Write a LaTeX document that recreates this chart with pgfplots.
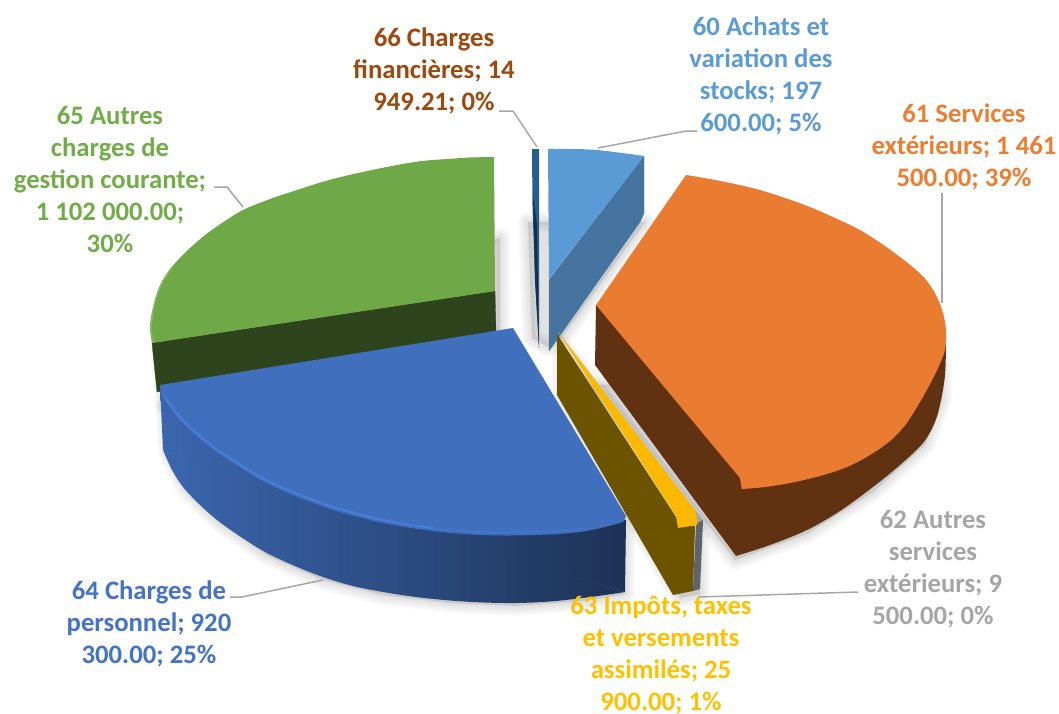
\documentclass[border=0pt]{standalone}
\usepackage{pgfplots}
\pgfplotsset{compat=1.18}
\usepackage{fontspec}
\setmainfont{Carlito}
\definecolor{c60}{HTML}{5B9BD5}
\definecolor{c60s}{HTML}{4674A1}
\definecolor{c61}{HTML}{E97C30}
\definecolor{c61s}{HTML}{613212}
\definecolor{c62}{HTML}{A5A5A5}
\definecolor{c62s}{HTML}{5F6469}
\definecolor{c63}{HTML}{FDB900}
\definecolor{c63s}{HTML}{6B5300}
\definecolor{c64}{HTML}{406FBE}
\definecolor{c64h}{HTML}{4B82DE}
\definecolor{c65}{HTML}{6FA947}
\definecolor{c65s}{HTML}{2D441C}
\definecolor{c66}{HTML}{255E91}
\definecolor{c66s}{HTML}{14304F}
\definecolor{t61}{HTML}{ED7D31}
\definecolor{t63}{HTML}{FFC000}
\definecolor{t64}{HTML}{4472C4}
\definecolor{t65}{HTML}{70AD47}
\definecolor{t66}{HTML}{9E480E}
\definecolor{lead}{HTML}{A6A6A6}
\tikzset{
  lbl/.style={font=\fontsize{26.7}{32}\selectfont\bfseries, align=center, anchor=center, inner sep=0pt},
  ld/.style={draw=lead, line width=1.5pt},
  sh/.style={draw=black, fill=black, opacity=0.025},
  solid fill/.style={fill=#1, draw=#1, line width=0.3pt},
}
\pgfplotstableread{
x y
600 385
735 560
807 534
873 492
925 445
942 400
942 365
}\shOrange
\pgfplotstableread{
x y
165 405
168 452
186 490
220 523
268 556
323 580
383 595
450 603
517 606
583 601
625 594
625 520
}\shBlue
\pgfplotstableread{
x y
500 238
500 335
165 405
160 350
}\shGreen
\pgfplotstableread{
x y
528 222
645 222
560 340
548 347
532 338
}\shTop
\pgfplotstableread{
x y
562 345
700 525
700 594
680 598
562 400
}\shYellow
\begin{document}
\begin{tikzpicture}
\begin{axis}[
  width=1059pt, height=713pt, scale only axis,
  xmin=0, xmax=1059, ymin=0, ymax=713, y dir=reverse,
  hide axis, clip=false, no markers,
  every axis plot/.append style={line join=round},
]
\path (axis cs:0,0) rectangle (axis cs:1059,713);
% soft shadows
\pgfplotsinvokeforeach{20,16,12,8,4}{
  \addplot[sh, line width=#1pt] table {\shOrange} --cycle;
  \addplot[sh, line width=#1pt] table {\shBlue} --cycle;
  \addplot[sh, line width=#1pt] table {\shGreen} --cycle;
  \addplot[sh, line width=#1pt] table {\shTop} --cycle;
  \addplot[sh, line width=#1pt] table {\shYellow} --cycle;
}
% 65 green
\addplot[solid fill=c65s] coordinates {(152,343)(495,291)(496,332)(157,392)} --cycle;
\addplot[fill=c65, draw=none, smooth, tension=0.55] coordinates {
 (494,157)(470,157.5)(447,159)(422,161)(397,165)(372,170)(347,175.5)(322,182)(297,190)(270,199)(243,210)(225,221)(207,233.5)(190,248)(173,265.5)(163,280)(157,294)(152,312)(150,328)(152,343)} --cycle;
\addplot[fill=c65, draw=none] coordinates {(495,291)(494,157)(300,210)(152,343)} --cycle;
\addplot[draw=c65!85!white, line width=1.5pt, smooth, tension=0.55] coordinates {(173,266)(163,281)(157,295)(153,312)(151,328)(153,342)};
% 66
\addplot[fill=c66, draw=none] coordinates {(532,149)(539,149)(539,348)(535,280)(532.5,207)} --cycle;
\addplot[fill=c66s, draw=none] coordinates {(533,195)(537,225)(539,348)(535,280)} --cycle;
% 60
\addplot[solid fill=c60s] coordinates {(549,280)(644,156)(644,213)(640,222)(549,351)} --cycle;
\addplot[fill=c60, draw=none, smooth, tension=0.55] coordinates {(548,149)(575,149)(597,150)(622,153)(644,156)} --cycle;
\addplot[fill=c60, draw=none] coordinates {(549,279)(548,149)(597,151)(644,156)} --cycle;
% 61
\addplot[fill=c61s, draw=none, smooth, tension=0.55] coordinates {
 (736,556)(770,545)(807,530)(840,511)(873,487)(900,465)(923,443)(935,422)(941,400)(945,375)(946,345)} --cycle;
\addplot[fill=c61s, draw=none] coordinates {(596,305)(595,365)(736,556)(880,440)(946,345)} --cycle;
\addplot[fill=c61, draw=none, smooth, tension=0.55] coordinates {
 (686,175)(710,179)(735,184)(760,190)(785,198)(810,207)(835,218)(860,230)(882,244)(900,257)(915,269)(927,281)(937,297)(943,313)(946,330)(945,350)(938,368)(930,384)(920,402)(906,424)(890,441)(870,455)(847,467)(820,476)(790,483)(765,487)(742,489)} --cycle;
\addplot[fill=c61, draw=none] coordinates {(596,305)(686,175)(800,330)(742,489)(740,478)} --cycle;
% 62 grey
\addplot[fill=c62, draw=none] coordinates {(558,332)(703,520)(697,527)(690,510)} --cycle;
\addplot[fill=c62s, draw=none] coordinates {(696,524)(703,520)(700,589)(693,591)} --cycle;
% 63
\addplot[fill=c63s, draw=none] coordinates {(557,334)(678,520)(695,526)(693,591)(673,595)(557,395)} --cycle;
\addplot[fill=c63, draw=none] coordinates {(558,332)(695,510)(697,518)(697,525)(678,528)(676,516)} --cycle;
% 64 blue
\addplot[left color=c64!92!black, middle color=c64!65!black, right color=c64!45!black, draw=none, smooth, tension=0.55] coordinates {
 (163,450)(172,470)(183,487)(199,504)(217,520)(241,537)(267,553)(295,566)(323,577)(353,586)(383,592)(416,597)(450,600.5)(484,602.5)(517,603)(550,601.5)(583,598)(605,595)(625,592)} --cycle;
\addplot[left color=c64!92!black, middle color=c64!65!black, right color=c64!45!black, draw=none] coordinates {
 (160,385)(163,450)(300,495)(625,592)(626,520)} --cycle;
\addplot[fill=c64, draw=none, smooth, tension=0.55] coordinates {
 (160,385)(165,400)(178,418)(193,433)(212,449)(233,463)(257,478)(283,491)(308,501)(333,510)(358,517)(383,523)(408,527.5)(433,531)(458,533.5)(483,535)(508,535.5)(533,535)(558,534)(583,531.5)(605,527)(623,522)} --cycle;
\addplot[fill=c64, draw=none] coordinates {(513,328)(160,385)(380,500)(623,522)(626,516)} --cycle;
\addplot[draw=c64h, line width=2pt, opacity=0.8, smooth, tension=0.55] coordinates {(163,394)(178,415)(193,430)(212,446)(233,460)(257,475)(283,488)(308,498)(333,507)(358,514)(383,520)(408,524.5)(433,528)};
\addplot[draw=c64h, line width=1.2pt, opacity=0.5, smooth, tension=0.55] coordinates {(433,528)(458,530.5)(483,532)(508,532.5)(533,532)(558,531)(583,528.5)};
% leaders
\addplot[ld] coordinates {(499,111)(513,111)(537,147)};
\addplot[ld] coordinates {(598,148)(686,131)(697,131)};
\addplot[ld] coordinates {(942,193)(942,303)};
\addplot[ld] coordinates {(698,597)(858,592)};
\addplot[ld] coordinates {(230,597)(242,597)(323,580)};
\addplot[ld] coordinates {(214,187)(227,187)(243,207)};
% labels
\node[lbl, text=t66] at (axis cs:434,71) {66 Charges\\financières; 14\\949.21; 0\%};
\node[lbl, text=c60] at (axis cs:761,76) {60 Achats et\\variation des\\stocks; 197\\600.00; 5\%};
\node[lbl, text=t61] at (axis cs:964,147) {61 Services\\extérieurs; 1 461\\500.00; 39\%};
\node[lbl, text=c62] at (axis cs:933,569) {62 Autres\\services\\extérieurs; 9\\500.00; 0\%};
\node[lbl, text=t63] at (axis cs:661,655) {63 Impôts, taxes\\et versements\\assimilés; 25\\900.00; 1\%};
\node[lbl, text=t64] at (axis cs:149,624) {64 Charges de\\personnel; 920\\300.00; 25\%};
\node[lbl, text=t65] at (axis cs:110,179) {65 Autres\\charges de\\gestion courante;\\1 102 000.00;\\30\%};
\end{axis}
\end{tikzpicture}
\end{document}
